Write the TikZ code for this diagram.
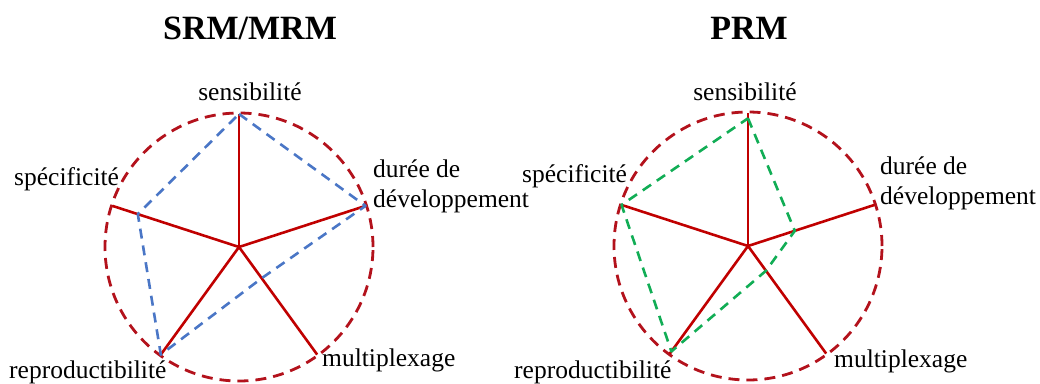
\documentclass[tikz,border=0pt]{standalone}
\usepackage{fontspec}
\setmainfont{Liberation Serif}

\definecolor{axisred}{HTML}{C00000}
\definecolor{ringred}{HTML}{B3121C}
\definecolor{srmblue}{HTML}{4A76C6}
\definecolor{prmgreen}{HTML}{11AD55}

\tikzstyle{ring} = [ringred, line width=2.8pt, dash pattern=on 11pt off 7pt]
\tikzstyle{spoke} = [axisred, line width=2.6pt]
\tikzstyle{srm} = [srmblue, line width=2.6pt, dash pattern=on 10pt off 7pt, line join=round]
\tikzstyle{prm} = [prmgreen, line width=2.6pt, dash pattern=on 10pt off 7pt, line join=round]
\tikzstyle{axislabel} = [inner sep=0pt, font=\fontsize{25.5}{30}\selectfont]
\tikzstyle{heading} = [inner sep=0pt, font=\fontsize{34}{40}\selectfont\bfseries]

\begin{document}
\begin{tikzpicture}[x=1pt,y=-1pt]
\useasboundingbox (0,0) rectangle (1040,383);

% SRM/MRM
\coordinate (c1) at (239,247);
\draw [ring] (c1) circle (134pt);
\foreach \a/\n/\v in {90/sen/1, 18/dur/1, -54/mul/0.29, -126/rep/1, 162/spe/0.8} {
  \coordinate (l-\n) at ([shift={(\a:133pt)}]c1);
  \coordinate (b-\n) at ([shift={(\a:\v*133pt)}]c1);
  \draw [spoke] (c1) -- (l-\n);
}
\draw [srm] (b-sen) -- (b-dur) -- (b-mul) -- (b-rep) -- (b-spe) -- cycle;

\node (t1) [heading, anchor=base] at (250,39) {SRM/MRM};
\node (sen1) [axislabel, anchor=base] at (250,100) {sensibilité};
\node (spe1) [axislabel, anchor=base west] at (14,185) {spécificité};
\node (dur1) [axislabel, anchor=base west] at (373,177) {durée de};
\node (dev1) [axislabel, anchor=base west] at (373,207) {développement};
\node (rep1) [axislabel, anchor=base west] at (9,378) {reproductibilité};
\node (mul1) [axislabel, anchor=base west] at (322,366) {multiplexage};

% PRM
\coordinate (c2) at (748,246);
\draw [ring] (c2) circle (134pt);
\foreach \a/\n/\v in {90/sen/0.96, 18/dur/0.37, -54/mul/0.23, -126/rep/0.98, 162/spe/1} {
  \coordinate (r-\n) at ([shift={(\a:133pt)}]c2);
  \coordinate (g-\n) at ([shift={(\a:\v*133pt)}]c2);
  \draw [spoke] (c2) -- (r-\n);
}
\draw [prm] (g-sen) -- (g-dur) -- (g-mul) -- (g-rep) -- (g-spe) -- cycle;

\node (t2) [heading, anchor=base] at (749,39) {PRM};
\node (sen2) [axislabel, anchor=base] at (745,100) {sensibilité};
\node (spe2) [axislabel, anchor=base west] at (522,182) {spécificité};
\node (dur2) [axislabel, anchor=base west] at (880,174) {durée de};
\node (dev2) [axislabel, anchor=base west] at (880,204) {développement};
\node (rep2) [axislabel, anchor=base west] at (514,378) {reproductibilité};
\node (mul2) [axislabel, anchor=base west] at (834,367) {multiplexage};

\end{tikzpicture}
\end{document}
